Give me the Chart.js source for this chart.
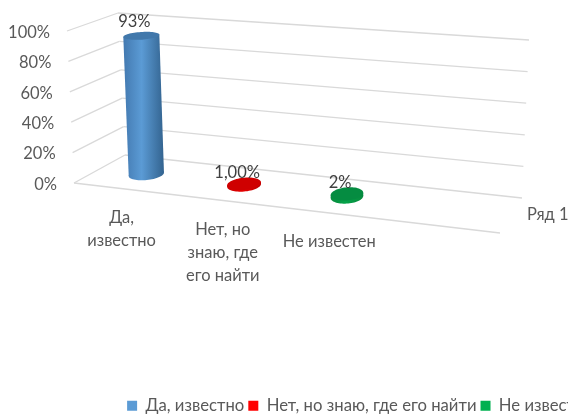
<!DOCTYPE html>
<html><head><meta charset="utf-8">
<style>html,body{margin:0;padding:0;background:#fff;overflow:hidden;width:568px;height:414px}
#wrap{position:absolute;left:0;top:0;width:720px;height:424px}</style>
<script src="https://cdn.jsdelivr.net/npm/chart.js@4"></script>
</head><body><div id="wrap"><canvas id="c" width="720" height="424"></canvas></div>
<script>
const categories = [["Да,","известно"],["Нет, но","знаю, где","его найти"],["Не известен"]];
const legendNames = ["Да, известно","Нет, но знаю, где его найти","Не известен"];
const seriesName = "Ряд 1";
const values = [0.93,0.01,0.02];
const valueLabels = ["93%","1,00%","2%"];
const yTicks = [0,0.2,0.4,0.6,0.8,1];
const legendColors = ["#5b9bd5","#ff0000","#00b050"];
const sideLeft = ["#4379b0","#c80000","#078a3e"];
const sideMid = ["#5b9bd5","#e60000","#05a349"];
const sideRight = ["#33638f","#b80000","#078a3e"];
const topColors = ["#4178ab","#cf0000","#058c41"];

const FONT = "Lato, 'Noto Sans', sans-serif";
const SIZE = 16.5;
const LEGEND_SIZE = 16.7;
const floor = {F0:[74,183],F1:[500,233],B0:[125,155],B1:[522,198]};
const lift = {F0:[-7,-152],F1:[7,-170],B0:[-7,-142],B1:[7,-158]};
const mix=(a,b,t)=>[a[0]+(b[0]-a[0])*t,a[1]+(b[1]-a[1])*t];
function bil(o,u,v){return mix(mix(o.F0,o.F1,u),mix(o.B0,o.B1,u),v);}
function proj(u,v,h){const f=bil(floor,u,v),l=bil(lift,u,v);return [f[0]+l[0]*h,f[1]+l[1]*h];}
const warp=u=>u*(0.9+0.1*u);
const RU=0.036,RV=0.2;
function ring(u,h){const p=[];for(let i=0;i<64;i++){const t=i/64*2*Math.PI;p.push(proj(u+RU*Math.cos(t),0.5+RV*Math.sin(t),h));}return p;}
function poly(ctx,p){ctx.beginPath();p.forEach((q,i)=>i?ctx.lineTo(q[0],q[1]):ctx.moveTo(q[0],q[1]));ctx.closePath();}
const line=(ctx,a,b)=>{ctx.beginPath();ctx.moveTo(a[0],a[1]);ctx.lineTo(b[0],b[1]);ctx.stroke();};
const hOf=(chart,px)=>{const a=chart.chartArea;return (a.bottom-px)/(a.bottom-a.top);};
const uOf=(chart,px)=>{const a=chart.chartArea;return warp((px-a.left)/(a.right-a.left)*0.75);};

const scene3d={id:'scene3d',
 beforeDatasetsDraw(chart){
  const ctx=chart.ctx,ys=chart.scales.y,xs=chart.scales.x;
  ctx.save();ctx.strokeStyle='#d9d9d9';ctx.lineWidth=1.3;
  ctx.fillStyle='#595959';ctx.font=SIZE+'px '+FONT;
  ys.ticks.forEach(t=>{const h=hOf(chart,ys.getPixelForValue(t.value));
    const a=proj(0,0,h),b=proj(0,1,h),c=proj(1,1,h);
    line(ctx,a,b);line(ctx,b,c);
    ctx.textAlign='right';ctx.textBaseline='middle';
    ctx.fillText(Math.round(t.value*100)+'%',a[0]-17,a[1]+1.5);
  });
  line(ctx,proj(0,0,0),proj(1,0,0));
  ctx.textBaseline='middle';ctx.textAlign='left';
  ctx.fillText(chart.data.datasets[0].label,527,215);
  ctx.textAlign='center';
  categories.forEach((lines,i)=>{
    const f=proj(uOf(chart,xs.getPixelForValue(i)),0,0);
    lines.forEach((s,k)=>ctx.fillText(s,f[0]-1,f[1]+29+k*22.8));
  });
  ctx.restore();
 },
 beforeDatasetDraw(chart,args){
  const ctx=chart.ctx,meta=args.meta;
  meta.data.forEach((el,i)=>{
   const u=uOf(chart,el.x),h=hOf(chart,el.y);
   const top=ring(u,h),bot=ring(u,0);
   const xmin=a=>a.reduce((m,p)=>p[0]<m[0]?p:m),xmax=a=>a.reduce((m,p)=>p[0]>m[0]?p:m);
   const x0=Math.min(xmin(top)[0],xmin(bot)[0]),x1=Math.max(xmax(top)[0],xmax(bot)[0]);
   const g=ctx.createLinearGradient(x0,0,x1,0);
   g.addColorStop(0,sideLeft[i]);g.addColorStop(0.45,sideMid[i]);g.addColorStop(1,sideRight[i]);
   ctx.save();ctx.fillStyle=g;
   poly(ctx,[xmin(top),xmax(top),xmax(bot),xmin(bot)]);ctx.fill();
   poly(ctx,bot);ctx.fill();
   ctx.fillStyle=topColors[i];poly(ctx,top);ctx.fill();
   ctx.restore();
  });
  return false;
 },
 afterDatasetsDraw(chart){
  const ctx=chart.ctx,meta=chart.getDatasetMeta(0);
  ctx.save();ctx.fillStyle='#404040';ctx.font=SIZE+'px '+FONT;ctx.textAlign='center';ctx.textBaseline='middle';
  meta.data.forEach((el,i)=>{
    const h=hOf(chart,el.y),p=proj(uOf(chart,el.x),0.5,h);
    ctx.fillText(valueLabels[i],p[0]-7,p[1]-11.5-2.5*h);
  });
  ctx.restore();
 }
};

new Chart(document.getElementById('c'),{
 type:'bar',
 data:{labels:legendNames,datasets:[{label:seriesName,data:values,backgroundColor:legendColors}]},
 plugins:[scene3d],
 options:{
  responsive:false,animation:false,events:[],
  layout:{padding:0},
  scales:{
   x:{type:'category',offset:true,grid:{display:false},border:{display:false},ticks:{display:false}},
   y:{min:0,max:1,afterBuildTicks(s){s.ticks=yTicks.map(v=>({value:v}));},grid:{display:false},border:{display:false},ticks:{display:false}}
  },
  plugins:{
   tooltip:{enabled:false},
   legend:{position:'bottom',labels:{
     boxWidth:10,boxHeight:10,padding:4,color:'#595959',font:{size:LEGEND_SIZE,family:FONT},
     generateLabels(){return legendNames.map((t,i)=>({text:t,fillStyle:legendColors[i],strokeStyle:legendColors[i],lineWidth:0,index:i,fontColor:'#595959'}));}
   }}
  }
 }
});
</script></body></html>
